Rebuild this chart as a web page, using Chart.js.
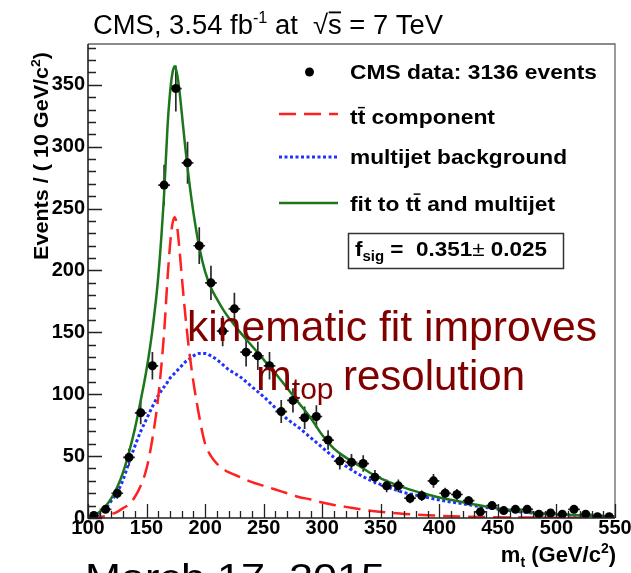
<!DOCTYPE html>
<html><head><meta charset="utf-8">
<script src="https://cdn.jsdelivr.net/npm/chart.js@4/dist/chart.umd.min.js"></script>
<style>html,body{margin:0;padding:0;background:#fff;}canvas{display:block;}</style>
</head><body>
<canvas id="c" width="631" height="573"></canvas>
<script>
// ---------- data ----------
const binCenters = [105,115,125,135,145,155,165,175,185,195,205,215,225,235,245,255,265,275,285,295,305,315,325,335,345,355,365,375,385,395,405,415,425,435,445,455,465,475,485,495,505,515,525,535,545];
const eventCounts = [2,7,20,49,85,123,269,347,287,220,190,151,169,134,131,123,86,95,81,82,63,46,45,44,33,26,26,16,18,30,20,19,14,5,10,6,7,7,3,4,3,7,3,1,1];
const binWidth = 10;

const curveMass     = [100,105,110,115,120,125,130,135,140,145,150,155,160,165,168,170,172,174,176,178,180,183,186,190,195,200,205,210,215,220,225,230,240,250,260,270,280,290,300,310,320,330,340,350,360,370,380,390,400,420,440,460,480,500,520,550];
const fitCurve      = [0.5,2,5,9.5,16,25,37,53,72,95,120,152,195,262,318,343,359,365,359,346,328,300,275,247,219,199,186,177,169,162,156,150,139,128,117,105,93,81,67,56,49,43,37,32,28,24.5,21.5,19,16.5,12.8,9.2,6.5,4.5,3.1,2.2,1.2];
const ttbarCurve    = [0,0.3,0.8,1.5,3,5,8,11,17,26,40,64,98,150,195,220,237,243,236,218,196,165,138,110,82,60,50,44,40,37,35,33,29,26,23,20,17,15,12.5,10.5,9,7.5,6,5,4,3.3,2.7,2.2,1.8,1.2,0.8,0.5,0.35,0.25,0.15,0.1];
const multijetCurve = [0.3,1.5,4,8,14,21,31,45,58,70,80,90,99,106,110,113,115,117,119,121,123,126,128,131,133,133,131,128,124,120,117,114,106,98,89,80,73,65,57,49,42,36,31,27,23.5,20.5,18.5,16.5,14.5,11.5,8.5,6,4,2.8,2,1.1];

const xRange = [100, 550];
const yRange = [0, 383];
const tickStep = 50;
const minorStep = 10;

const legendLabels = ['CMS data: 3136 events', 'component', 'multijet background', 'and multijet'];
const titleText = 'CMS, 3.54 fb';
const fsigValue = '0.351', fsigError = '0.025';

// ---------- helpers ----------
const FONT = '"Liberation Sans", Arial, Helvetica, sans-serif';
const fontOf = s => (s.bold ? 'bold ' : '') + s.size + 'px ' + FONT;
const toXY = (xs, ys) => xs.map((x, i) => ({x: x, y: ys[i]}));

function drawRich(ctx, segs, o) {
  ctx.save();
  ctx.translate(o.x, o.y);
  if (o.rotate) ctx.rotate(o.rotate);
  let total = 0;
  const ws = segs.map(s => { ctx.font = fontOf(s); const w = ctx.measureText(s.t).width; total += w; return w; });
  const sx = o.width ? o.width / total : 1;
  ctx.scale(sx, 1);
  let cx = o.align === 'right' ? -total : (o.align === 'center' ? -total / 2 : 0);
  ctx.fillStyle = o.color || '#000';
  ctx.strokeStyle = o.color || '#000';
  ctx.textBaseline = 'alphabetic';
  ctx.textAlign = 'left';
  segs.forEach((s, i) => {
    ctx.font = fontOf(s);
    const dy = s.dy || 0;
    ctx.fillText(s.t, cx, dy);
    if (s.over) {
      ctx.lineWidth = Math.max(1, s.size * 0.07);
      ctx.beginPath();
      const oy = dy - s.size * s.over;
      ctx.moveTo(cx + ws[i] * 0.05, oy);
      ctx.lineTo(cx + ws[i] * 0.95, oy);
      ctx.stroke();
    }
    cx += ws[i];
  });
  ctx.restore();
}

const decor = {
  id: 'rootDecor',
  beforeDraw(chart) {
    const ctx = chart.ctx;
    ctx.save(); ctx.fillStyle = '#fff'; ctx.fillRect(0, 0, chart.width, chart.height); ctx.restore();
  },
  beforeDatasetsDraw(chart) {
    const {ctx, chartArea: a, scales: {x, y}} = chart;
    ctx.save();
    ctx.beginPath(); ctx.rect(a.left, a.top, a.right - a.left, a.bottom - a.top); ctx.clip();
    ctx.strokeStyle = '#2a2a2a'; ctx.lineWidth = 1.7;
    binCenters.forEach((c, i) => {
      const n = eventCounts[i], e = Math.sqrt(n);
      const px = x.getPixelForValue(c), py = y.getPixelForValue(n);
      ctx.beginPath();
      ctx.moveTo(px, y.getPixelForValue(n - e)); ctx.lineTo(px, y.getPixelForValue(n + e));
      ctx.moveTo(x.getPixelForValue(c - binWidth / 2), py); ctx.lineTo(x.getPixelForValue(c + binWidth / 2), py);
      ctx.stroke();
    });
    ctx.restore();
  },
  afterDraw(chart) {
    const {ctx, chartArea: a, scales: {x, y}} = chart;
    ctx.save();
    // frame
    ctx.lineWidth = 1.3; ctx.strokeStyle = '#666';
    ctx.beginPath(); ctx.moveTo(a.left, a.top); ctx.lineTo(a.right, a.top); ctx.lineTo(a.right, a.bottom); ctx.stroke();
    ctx.lineWidth = 1.6; ctx.strokeStyle = '#222';
    ctx.beginPath(); ctx.moveTo(a.left, a.top); ctx.lineTo(a.left, a.bottom); ctx.lineTo(a.right, a.bottom); ctx.stroke();
    // ticks (inside the frame, ROOT style)
    ctx.lineWidth = 1.3; ctx.strokeStyle = '#222';
    ctx.beginPath();
    for (let v = yRange[0]; v <= yRange[1]; v += minorStep) {
      const py = Math.round(y.getPixelForValue(v)) + 0.5;
      const len = v % tickStep === 0 ? 14 : 8;
      ctx.moveTo(a.left, py); ctx.lineTo(a.left + len, py);
    }
    for (let v = xRange[0]; v <= xRange[1]; v += minorStep) {
      const px = Math.round(x.getPixelForValue(v)) + 0.5;
      const len = v % tickStep === 0 ? 14 : 7;
      ctx.moveTo(px, a.bottom); ctx.lineTo(px, a.bottom - len);
    }
    ctx.stroke();

    // title
    drawRich(ctx, [
      {t: titleText, size: 27}, {t: '-1', size: 16, dy: -11}, {t: ' at  ', size: 27},
      {t: '\u221A', size: 27}, {t: 's', size: 27, over: 0.8}, {t: ' = 7 TeV', size: 27}
    ], {x: 93, y: 34, width: 350});

    // y axis title
    drawRich(ctx, [
      {t: 'Events / ( 10 GeV/c', size: 20, bold: true}, {t: '2', size: 13, bold: true, dy: -8}, {t: ')', size: 20, bold: true}
    ], {x: 48, y: 52, rotate: -Math.PI / 2, align: 'right', width: 208});

    // x axis title
    drawRich(ctx, [
      {t: 'm', size: 22, bold: true}, {t: 't', size: 14, bold: true, dy: 5}, {t: ' (GeV/c', size: 22, bold: true},
      {t: '2', size: 14, bold: true, dy: -9}, {t: ')', size: 22, bold: true}
    ], {x: 616, y: 562, align: 'right'});

    // legend
    ctx.fillStyle = '#000';
    ctx.beginPath(); ctx.arc(309.5, 72, 4.5, 0, Math.PI * 2); ctx.fill();
    const lines = [
      {y: 114, color: '#ff2020', dash: [17, 8], w: 2.5},
      {y: 157, color: '#1e32ff', dash: [3, 2.5], w: 3},
      {y: 203, color: '#1c761c', dash: [], w: 2.5}
    ];
    lines.forEach(l => {
      ctx.save(); ctx.strokeStyle = l.color; ctx.lineWidth = l.w; ctx.setLineDash(l.dash);
      ctx.beginPath(); ctx.moveTo(279, l.y); ctx.lineTo(338, l.y); ctx.stroke(); ctx.restore();
    });
    drawRich(ctx, [{t: legendLabels[0], size: 21, bold: true}], {x: 350, y: 79, width: 247});
    drawRich(ctx, [{t: 't', size: 21, bold: true}, {t: 't', size: 21, bold: true, over: 0.78}, {t: ' ' + legendLabels[1], size: 21, bold: true}], {x: 350, y: 124, width: 145});
    drawRich(ctx, [{t: legendLabels[2], size: 21, bold: true}], {x: 350, y: 164, width: 217});
    drawRich(ctx, [{t: 'fit to t', size: 21, bold: true}, {t: 't', size: 21, bold: true, over: 0.78}, {t: ' ' + legendLabels[3], size: 21, bold: true}], {x: 350, y: 210.5, width: 205});

    // f_sig box
    ctx.lineWidth = 1.5; ctx.strokeStyle = '#333';
    ctx.strokeRect(348.5, 233.5, 215, 35);
    drawRich(ctx, [
      {t: 'f', size: 21, bold: true}, {t: 'sig', size: 14, bold: true, dy: 5}, {t: ' =  ' + fsigValue, size: 21, bold: true},
      {t: '\u00B1', size: 21}, {t: ' ' + fsigError, size: 21, bold: true}
    ], {x: 355, y: 256, width: 192});

    // slide overlay text
    const red = '#800000';
    drawRich(ctx, [{t: 'kinematic fit improves', size: 43}], {x: 187, y: 341, width: 410, color: red});
    drawRich(ctx, [{t: 'm', size: 43}, {t: 'top', size: 30, dy: 9}], {x: 256, y: 390, color: red});
    drawRich(ctx, [{t: 'resolution', size: 43}], {x: 343, y: 390, width: 182, color: red});

    // cut-off slide footer
    drawRich(ctx, [{t: 'March 17, 2015', size: 36}], {x: 85, y: 590, width: 300});
    ctx.restore();
  }
};

const tickFont = {family: FONT, size: 20, weight: 'bold'};

new Chart(document.getElementById('c'), {
  type: 'scatter',
  data: {
    datasets: [
      {label: 'CMS data', data: toXY(binCenters, eventCounts), pointRadius: 4.5, pointHoverRadius: 4.5,
       backgroundColor: '#000', borderWidth: 0, showLine: false},
      {label: 'fit', data: toXY(curveMass, fitCurve), showLine: true, pointRadius: 0, borderColor: '#1c761c',
       borderWidth: 2.5, cubicInterpolationMode: 'monotone', fill: false},
      {label: 'ttbar', data: toXY(curveMass, ttbarCurve), showLine: true, pointRadius: 0, borderColor: '#ff2020',
       borderWidth: 2.5, borderDash: [17, 8], cubicInterpolationMode: 'monotone', fill: false},
      {label: 'multijet', data: toXY(curveMass, multijetCurve), showLine: true, pointRadius: 0, borderColor: '#1e32ff',
       borderWidth: 3, borderDash: [3, 2.5], cubicInterpolationMode: 'monotone', fill: false}
    ]
  },
  options: {
    responsive: false, animation: false, devicePixelRatio: 1,
    layout: {padding: {top: 44, right: 16, left: 0, bottom: 0}},
    plugins: {legend: {display: false}, tooltip: {enabled: false}},
    scales: {
      x: {type: 'linear', position: 'bottom', min: xRange[0], max: xRange[1],
          ticks: {stepSize: tickStep, font: tickFont, color: '#000', padding: -2, maxRotation: 0, autoSkip: false, includeBounds: false},
          grid: {display: false, drawTicks: false}, border: {display: false},
          afterFit: s => { s.height = 55; s.paddingLeft = 0; s.paddingRight = 0; }},
      y: {type: 'linear', min: yRange[0], max: yRange[1],
          ticks: {stepSize: tickStep, font: tickFont, color: '#000', padding: 3, autoSkip: false, includeBounds: false},
          grid: {display: false, drawTicks: false}, border: {display: false},
          afterFit: s => { s.width = 88; s.paddingTop = 0; s.paddingBottom = 0; }}
    }
  },
  plugins: [decor]
});
</script>
</body></html>
